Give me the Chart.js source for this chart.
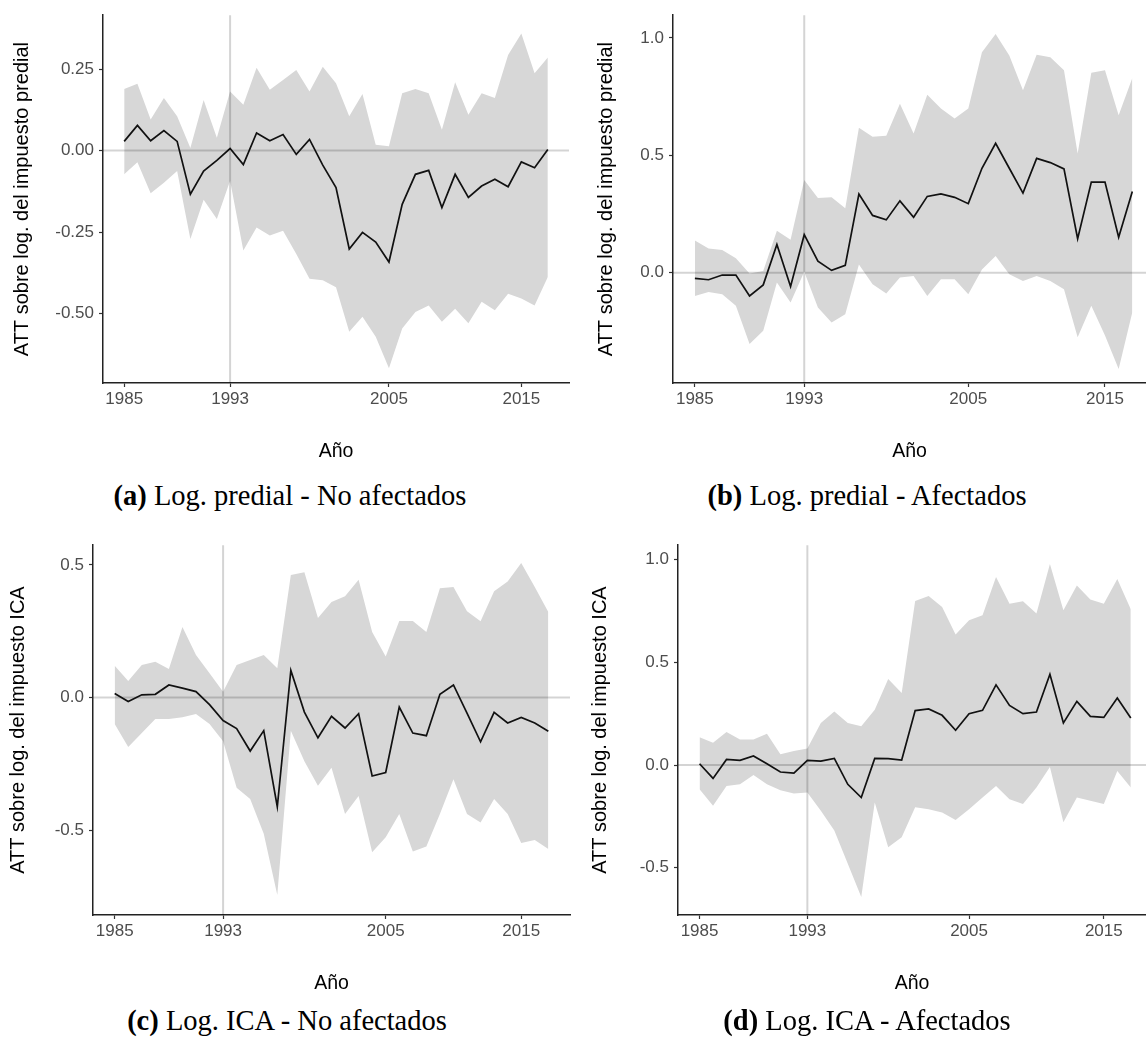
<!DOCTYPE html>
<html>
<head>
<meta charset="utf-8">
<script src="https://cdn.jsdelivr.net/npm/chart.js@4.4.1/dist/chart.umd.min.js"></script>
<style>
  html, body { margin: 0; padding: 0; background: #fff; }
  #page { position: relative; width: 1146px; height: 1038px; overflow: hidden; }
  .panel { position: absolute; }
  .caption {
    position: absolute; width: 520px; text-align: center; white-space: nowrap;
    font-family: "Liberation Serif", "Times New Roman", serif;
    font-size: 28.5px; line-height: 34px; color: #000;
  }
</style>
</head>
<body>
<div id="page">
  <div class="panel" style="left:0px;top:0px;width:580px;height:463px"><canvas id="chartA"></canvas></div>
  <div class="panel" style="left:584px;top:0px;width:562px;height:463px"><canvas id="chartB"></canvas></div>
  <div class="panel" style="left:0px;top:530px;width:580px;height:465px"><canvas id="chartC"></canvas></div>
  <div class="panel" style="left:578px;top:530px;width:568px;height:465px"><canvas id="chartD"></canvas></div>

  <div class="caption" style="left:30px;top:479px"><b>(a)</b> Log. predial - No afectados</div>
  <div class="caption" style="left:607px;top:479px"><b>(b)</b> Log. predial - Afectados</div>
  <div class="caption" style="left:27px;top:1004px"><b>(c)</b> Log. ICA - No afectados</div>
  <div class="caption" style="left:607px;top:1004px"><b>(d)</b> Log. ICA - Afectados</div>
</div>

<script>
// years on the x axis
var years = [1985, 1986, 1987, 1988, 1989, 1990, 1991, 1992, 1993, 1994, 1995,
             1996, 1997, 1998, 1999, 2000, 2001, 2002, 2003, 2004, 2005, 2006,
             2007, 2008, 2009, 2010, 2011, 2012, 2013, 2014, 2015, 2016, 2017];
var xTickYears = [1985, 1993, 2005, 2015];
var treatYear = 1993;

// (a) log predial - no afectados
var attA = [0.028, 0.077, 0.030, 0.061, 0.028, -0.134, -0.063, -0.030, 0.006, -0.043, 0.054,
            0.030, 0.049, -0.012, 0.034, -0.045, -0.114, -0.302, -0.251, -0.281, -0.342, -0.165,
            -0.073, -0.061, -0.175, -0.073, -0.144, -0.109, -0.088, -0.111, -0.035, -0.053, 0.003];
var hiA = [0.189, 0.205, 0.095, 0.161, 0.105, 0.008, 0.155, 0.039, 0.181, 0.140, 0.254,
           0.186, 0.216, 0.247, 0.181, 0.257, 0.206, 0.105, 0.173, 0.018, 0.013, 0.176,
           0.189, 0.176, 0.064, 0.209, 0.110, 0.176, 0.161, 0.293, 0.359, 0.237, 0.285];
var loA = [-0.073, -0.036, -0.131, -0.099, -0.063, -0.271, -0.151, -0.210, -0.093, -0.307, -0.236,
           -0.261, -0.246, -0.317, -0.393, -0.398, -0.419, -0.556, -0.510, -0.571, -0.668, -0.546,
           -0.495, -0.475, -0.525, -0.485, -0.530, -0.464, -0.490, -0.439, -0.454, -0.475, -0.388];
var yTicksA = [0.25, 0, -0.25, -0.5];

// (b) log predial - afectados
var attB = [-0.024, -0.030, -0.010, -0.010, -0.099, -0.052, 0.120, -0.059, 0.162, 0.049, 0.010,
            0.031, 0.335, 0.244, 0.225, 0.306, 0.236, 0.325, 0.336, 0.321, 0.294, 0.445,
            0.551, 0.445, 0.339, 0.487, 0.469, 0.442, 0.145, 0.386, 0.386, 0.151, 0.346];
var hiB = [0.137, 0.103, 0.097, 0.061, -0.004, 0.007, 0.179, 0.140, 0.395, 0.318, 0.321,
           0.275, 0.617, 0.579, 0.583, 0.720, 0.593, 0.758, 0.699, 0.657, 0.699, 0.939,
           1.017, 0.925, 0.777, 0.928, 0.918, 0.862, 0.508, 0.852, 0.862, 0.671, 0.829];
var loB = [-0.099, -0.082, -0.092, -0.141, -0.304, -0.247, -0.042, -0.127, 0.004, -0.148, -0.212,
           -0.177, 0.035, -0.049, -0.089, -0.020, -0.014, -0.099, -0.028, -0.028, -0.092, 0.014,
           0.071, -0.007, -0.035, -0.014, -0.035, -0.071, -0.275, -0.141, -0.268, -0.410, -0.169];
var yTicksB = [1.0, 0.5, 0.0];

// (c) log ICA - no afectados
var attC = [0.015, -0.015, 0.010, 0.012, 0.047, 0.035, 0.022, -0.027, -0.087, -0.117, -0.202,
            -0.125, -0.412, 0.102, -0.055, -0.152, -0.071, -0.115, -0.061, -0.296, -0.283, -0.036,
            -0.134, -0.144, 0.012, 0.047, -0.059, -0.167, -0.056, -0.096, -0.075, -0.096, -0.127];
var hiC = [0.120, 0.062, 0.122, 0.135, 0.107, 0.266, 0.160, 0.091, 0.022, 0.122, 0.141,
           0.160, 0.110, 0.462, 0.472, 0.300, 0.360, 0.382, 0.444, 0.247, 0.154, 0.288,
           0.288, 0.247, 0.412, 0.416, 0.325, 0.287, 0.400, 0.437, 0.507, 0.416, 0.322];
var loC = [-0.100, -0.187, -0.134, -0.081, -0.081, -0.075, -0.062, -0.100, -0.165, -0.340, -0.383,
           -0.514, -0.745, -0.125, -0.240, -0.333, -0.265, -0.439, -0.371, -0.583, -0.527, -0.439,
           -0.581, -0.562, -0.439, -0.308, -0.439, -0.471, -0.383, -0.439, -0.549, -0.537, -0.571];
var yTicksC = [0.5, 0.0, -0.5];

// (d) log ICA - afectados
var attD = [0.006, -0.065, 0.027, 0.023, 0.044, 0.006, -0.034, -0.039, 0.023, 0.019, 0.032,
            -0.094, -0.158, 0.032, 0.031, 0.024, 0.265, 0.273, 0.242, 0.169, 0.250, 0.266,
            0.390, 0.290, 0.250, 0.258, 0.442, 0.205, 0.310, 0.237, 0.232, 0.326, 0.229];
var hiD = [0.135, 0.108, 0.161, 0.124, 0.124, 0.152, 0.052, 0.068, 0.081, 0.205, 0.261,
           0.205, 0.189, 0.269, 0.419, 0.350, 0.798, 0.823, 0.769, 0.635, 0.705, 0.729,
           0.915, 0.785, 0.797, 0.737, 0.979, 0.753, 0.874, 0.806, 0.785, 0.906, 0.758];
var loD = [-0.118, -0.198, -0.102, -0.094, -0.048, -0.094, -0.123, -0.139, -0.134, -0.223, -0.319,
           -0.481, -0.642, -0.182, -0.400, -0.352, -0.206, -0.215, -0.231, -0.268, -0.215, -0.158,
           -0.102, -0.166, -0.190, -0.110, -0.010, -0.279, -0.158, -0.174, -0.190, -0.029, -0.110];
var yTicksD = [1.0, 0.5, 0.0, -0.5];

var sansFont = "'Liberation Sans', Arial, Helvetica, sans-serif";

function pairUp(vals) {
  return years.map(function (yr, i) { return { x: yr, y: vals[i] }; });
}

// zero line and 1993 line, drawn over the ribbon but under the estimate
var refLines = {
  id: 'refLines',
  beforeDatasetDraw: function (chart, args) {
    if (args.index !== 2) return;
    var ctx = chart.ctx, area = chart.chartArea;
    var y0 = chart.scales.y.getPixelForValue(0);
    var x0 = chart.scales.x.getPixelForValue(treatYear);
    ctx.save();
    ctx.strokeStyle = 'rgba(0,0,0,0.17)';
    ctx.lineWidth = 2;
    ctx.beginPath();
    ctx.moveTo(area.left, y0);
    ctx.lineTo(area.right, y0);
    ctx.moveTo(x0, area.top);
    ctx.lineTo(x0, area.bottom);
    ctx.stroke();
    ctx.restore();
  }
};

function makePanel(p) {
  new Chart(document.getElementById(p.id), {
    type: 'line',
    data: {
      datasets: [
        { data: pairUp(p.lo), borderWidth: 0, pointRadius: 0, fill: false, order: 3 },
        { data: pairUp(p.hi), borderWidth: 0, pointRadius: 0, fill: '-1',
          backgroundColor: '#d7d7d7', order: 2 },
        { data: pairUp(p.att), borderColor: '#111', borderWidth: 1.7, pointRadius: 0,
          fill: false, tension: 0, order: 1 }
      ]
    },
    options: {
      animation: false,
      responsive: true,
      maintainAspectRatio: false,
      events: [],
      layout: { padding: { top: 13, right: p.padRight, bottom: 0, left: 0 } },
      plugins: { legend: { display: false }, tooltip: { enabled: false } },
      scales: {
        x: {
          type: 'linear',
          min: 1983.4,
          max: p.xMax,
          afterBuildTicks: function (scale) {
            scale.ticks = xTickYears.map(function (v) { return { value: v }; });
          },
          afterFit: function (scale) { scale.height = 80; },
          ticks: {
            autoSkip: false, maxRotation: 0, padding: 2, color: '#4d4d4d',
            font: { family: sansFont, size: 17 },
            callback: function (v) { return String(v); }
          },
          grid: { drawOnChartArea: false, drawTicks: true, tickLength: 4,
                  tickColor: '#333', tickWidth: 1.2 },
          border: { display: true, color: '#222', width: 1.5 },
          title: { display: true, text: 'Año', color: '#000',
                   font: { family: sansFont, size: 19.5 }, padding: { top: 0, bottom: 0 } }
        },
        y: {
          type: 'linear',
          min: p.yMin,
          max: p.yMax,
          afterBuildTicks: function (scale) {
            scale.ticks = p.yTicks.map(function (v) { return { value: v }; });
          },
          afterFit: function (scale) { scale.width = p.axisWidth; },
          ticks: {
            autoSkip: false, padding: 5, color: '#4d4d4d',
            font: { family: sansFont, size: 17 },
            callback: function (v) { return v.toFixed(p.decimals); }
          },
          grid: { drawOnChartArea: false, drawTicks: true, tickLength: 4,
                  tickColor: '#333', tickWidth: 1.2 },
          border: { display: true, color: '#222', width: 1.5 },
          title: { display: true, text: p.yTitle, color: '#000',
                   font: { family: sansFont, size: 20 },
                   padding: { top: p.titlePad, bottom: 0 } }
        }
      }
    },
    plugins: [refLines]
  });
}

makePanel({ id: 'chartA', att: attA, hi: hiA, lo: loA, yTicks: yTicksA, decimals: 2,
            yMin: -0.713, yMax: 0.415, xMax: 2018.6, axisWidth: 103, padRight: 11,
            titlePad: 10, yTitle: 'ATT sobre log. del impuesto predial' });
makePanel({ id: 'chartB', att: attB, hi: hiB, lo: loB, yTicks: yTicksB, decimals: 1,
            yMin: -0.47, yMax: 1.097, xMax: 2018.0, axisWidth: 89, padRight: 0,
            titlePad: 10, yTitle: 'ATT sobre log. del impuesto predial' });
makePanel({ id: 'chartC', att: attC, hi: hiC, lo: loC, yTicks: yTicksC, decimals: 1,
            yMin: -0.82, yMax: 0.574, xMax: 2018.6, axisWidth: 93, padRight: 10,
            titlePad: 6, yTitle: 'ATT sobre log. del impuesto ICA' });
makePanel({ id: 'chartD', att: attD, hi: hiD, lo: loD, yTicks: yTicksD, decimals: 1,
            yMin: -0.73, yMax: 1.07, xMax: 2018.13, axisWidth: 100, padRight: 0,
            titlePad: 10, yTitle: 'ATT sobre log. del impuesto ICA' });
</script>
</body>
</html>
